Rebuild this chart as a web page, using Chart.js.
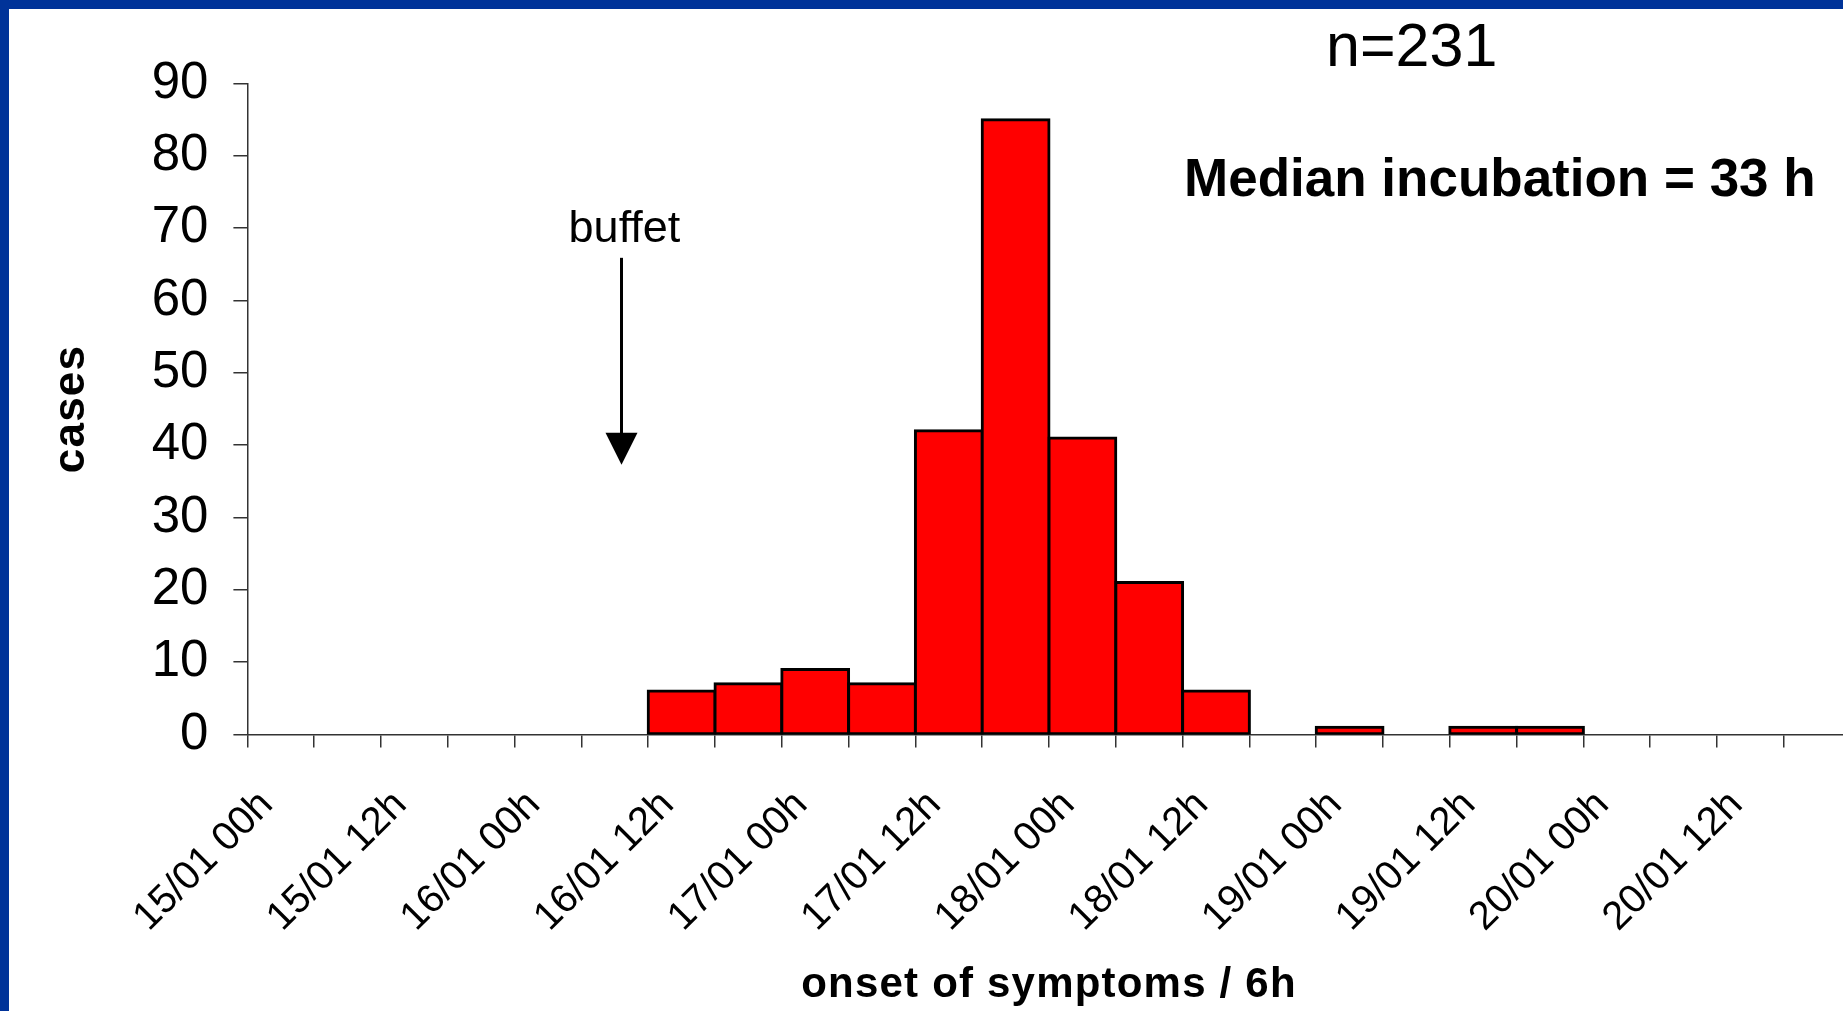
<!DOCTYPE html>
<html>
<head>
<meta charset="utf-8">
<script src="https://cdn.jsdelivr.net/npm/chart.js@4.4.1/dist/chart.umd.min.js"></script>
<style>
    html, body { margin: 0; padding: 0; background: #fff; overflow: hidden; }
    #wrap { position: relative; width: 1843px; height: 1011px; overflow: hidden; background: #fff; }
    /* the plot runs past the right edge of the slide, so the canvas is wider than the window */
    #box { position: absolute; left: 0; top: 0; width: 1900px; height: 1011px; }
    .edge { position: absolute; background: #003399; }
</style>
</head>
<body>
<div id="wrap">
    <div id="box"><canvas id="chart"></canvas></div>
    <div class="edge" style="left:0;top:0;width:1843px;height:9px"></div>
    <div class="edge" style="left:0;top:0;width:9px;height:1011px"></div>
</div>
<script>
// --- DATOS ---
// one bin = 6 hours, starting 15/01 00h
const binLabels = [
    '15/01 00h', '15/01 06h', '15/01 12h', '15/01 18h',
    '16/01 00h', '16/01 06h', '16/01 12h', '16/01 18h',
    '17/01 00h', '17/01 06h', '17/01 12h', '17/01 18h',
    '18/01 00h', '18/01 06h', '18/01 12h', '18/01 18h',
    '19/01 00h', '19/01 06h', '19/01 12h', '19/01 18h',
    '20/01 00h', '20/01 06h', '20/01 12h', '20/01 18h'
];
const cases = [0, 0, 0, 0, 0, 0, 6, 7, 9, 7, 42, 85, 41, 21, 6, 0, 1, 0, 1, 1, 0, 0, 0, 0];
const yMin = 0, yMax = 90, yStep = 10;

const caseTotal = 'n=231';
const medianText = 'Median incubation = 33 h';
const buffetText = 'buffet';
const buffetAt = 5.6;             // in bins from 15/01 00h
const buffetArrow = [65.9, 37.3]; // arrow from / to, in cases
const buffetLabelAt = 68.1;

const FONT = "'Liberation Sans', Arial, Helvetica, sans-serif";

// axis titles of the slide are slightly letter spaced; tick labels are drawn later (z:1)
const titleSpacing = {
    id: 'titleSpacing',
    beforeDraw(c) { c.ctx.letterSpacing = '1.2px'; },
    beforeDatasetsDraw(c) { c.ctx.letterSpacing = '0px'; }
};

const notes = {
    id: 'notes',
    afterDraw(c) {
        const { ctx, scales: { x, y } } = c;
        ctx.save();
        ctx.letterSpacing = '0px';
        ctx.fillStyle = '#000';
        ctx.strokeStyle = '#000';

        // buffet arrow
        const ax = x.getPixelForValue(buffetAt - 0.5);
        const top = y.getPixelForValue(buffetArrow[0]);
        const tip = y.getPixelForValue(buffetArrow[1]);
        ctx.lineWidth = 3;
        ctx.beginPath(); ctx.moveTo(ax, top); ctx.lineTo(ax, tip - 30); ctx.stroke();
        ctx.beginPath();
        ctx.moveTo(ax - 16, tip - 32); ctx.lineTo(ax + 16, tip - 32); ctx.lineTo(ax, tip);
        ctx.closePath(); ctx.fill();

        ctx.font = `45px ${FONT}`;
        ctx.textAlign = 'center';
        ctx.textBaseline = 'alphabetic';
        ctx.fillText(buffetText, ax + 3, y.getPixelForValue(buffetLabelAt));

        ctx.textAlign = 'left';
        ctx.font = `61px ${FONT}`;
        ctx.fillText(caseTotal, 1326, 66);

        ctx.font = `bold 53px ${FONT}`;
        ctx.fillText(medianText, 1184, 196);
        ctx.restore();
    }
};

const axisColor = '#333';

new Chart(document.getElementById('chart'), {
    type: 'bar',
    data: {
        labels: binLabels,
        datasets: [{
            data: cases,
            backgroundColor: '#ff0000',
            borderColor: '#000',
            borderWidth: 3,
            borderSkipped: false,
            inflateAmount: 1.5,
            categoryPercentage: 1,
            barPercentage: 1
        }]
    },
    options: {
        responsive: true,
        maintainAspectRatio: false,
        animation: false,
        layout: { padding: { top: 83.5, right: 49.4, bottom: 0, left: 0 } },
        plugins: { legend: { display: false }, tooltip: { enabled: false } },
        scales: {
            x: {
                offset: true,
                grid: { offset: true, drawOnChartArea: false, tickLength: 13, color: axisColor, lineWidth: 1.5 },
                border: { color: axisColor, width: 1.5 },
                ticks: {
                    autoSkip: false, minRotation: 45, maxRotation: 45,
                    padding: 34, labelOffset: -14, color: '#000', z: 1,
                    font: { family: FONT, size: 40 },
                    callback: (v, i) => i % 2 ? '' : binLabels[i]
                },
                title: {
                    display: true, text: 'onset of symptoms / 6h', color: '#000',
                    font: { family: FONT, size: 42, weight: 'bold' },
                    padding: { top: 0, bottom: 0 }
                },
                afterFit: s => { s.height = 276.5; }
            },
            y: {
                min: yMin, max: yMax,
                grid: { drawOnChartArea: false, tickLength: 14, color: axisColor, lineWidth: 1.5 },
                border: { color: axisColor, width: 1.5 },
                ticks: { stepSize: yStep, padding: 25, color: '#000', z: 1, font: { family: FONT, size: 51 } },
                title: {
                    display: true, text: 'cases', color: '#000',
                    font: { family: FONT, size: 44, weight: 'bold' },
                    padding: { top: 45, bottom: 0 }
                },
                afterFit: s => { s.width = 247.4; }
            }
        }
    },
    plugins: [titleSpacing, notes]
});
</script>
</body>
</html>
